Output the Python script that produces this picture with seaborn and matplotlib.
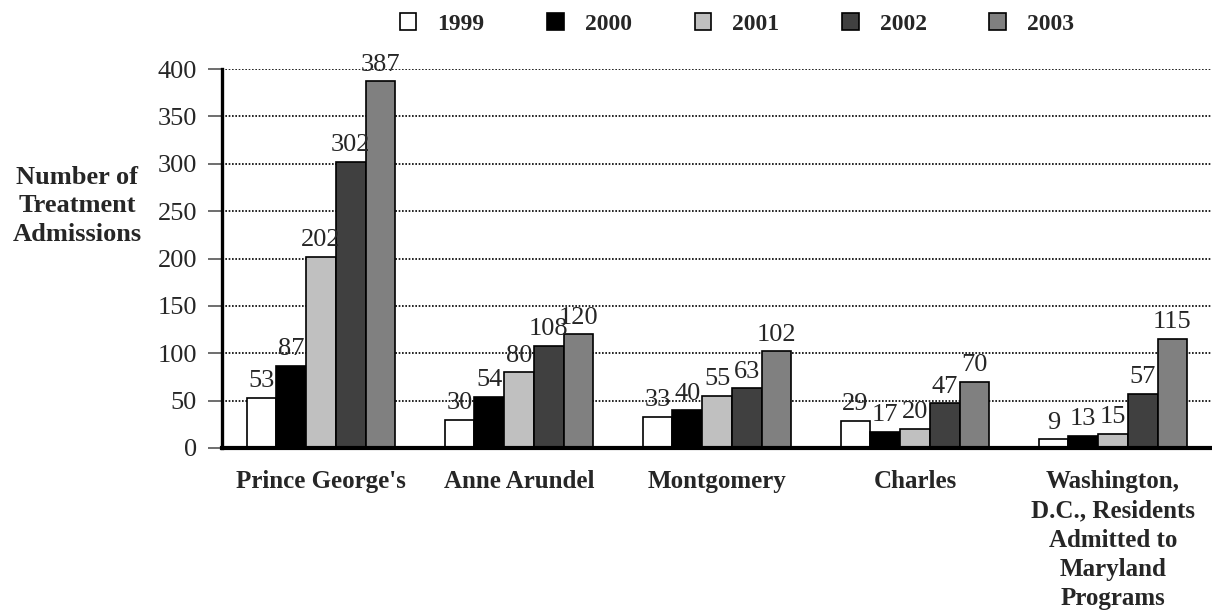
import matplotlib
matplotlib.use("Agg")
import matplotlib.pyplot as plt
import seaborn as sns
import pandas as pd
import numpy as np

categories = ["Prince George's", "Anne Arundel", "Montgomery", "Charles",
              "Washington,\nD.C., Residents\nAdmitted to\nMaryland\nPrograms"]
years = ["1999", "2000", "2001", "2002", "2003"]
v1999 = [53, 30, 33, 29, 9]
v2000 = [87, 54, 40, 17, 13]
v2001 = [202, 80, 55, 20, 15]
v2002 = [302, 108, 63, 47, 57]
v2003 = [387, 120, 102, 70, 115]
colors = ["#FFFFFF", "#000000", "#C0C0C0", "#404040", "#808080"]
yticks = [0, 50, 100, 150, 200, 250, 300, 350, 400]

series = [v1999, v2000, v2001, v2002, v2003]
rows = []
for y, vals in zip(years, series):
    for c, v in zip(categories, vals):
        rows.append({"cat": c, "year": y, "val": v})
df = pd.DataFrame(rows)

sns.set_style("white")
plt.rcParams['font.family'] = ['Liberation Serif', 'DejaVu Serif']

fig = plt.figure(figsize=(12.12, 6.12), dpi=100)
ax = fig.add_axes([222/1212, 1 - 448/612, 1 - 222/1212, (448 - 69)/612])

sns.barplot(data=df, x="cat", y="val", hue="year", palette=colors,
            edgecolor="black", linewidth=1.2, width=0.75, ax=ax,
            order=categories, hue_order=years, legend=True)

for cont in ax.containers:
    ax.bar_label(cont, padding=4, fontsize=19)

ax.set_ylim(0, 400)
ax.set_xlim(-0.5, 4.5)
ax.set_yticks(yticks)
ax.set_yticklabels([str(t) for t in yticks], fontsize=19)
ax.set_xticks(range(len(categories)))
ax.set_xticklabels(categories, fontsize=18, fontweight="bold", linespacing=1.35)
ax.tick_params(axis="x", length=0, pad=16)
ax.tick_params(axis="y", length=10, width=1.2, direction="out", left=True, pad=8, color="#555555")
ax.set_xlabel("")
ax.set_ylabel("")
ax.yaxis.grid(True, linestyle=(0, (1, 1)), color="black", linewidth=1.2)
ax.set_axisbelow(True)
for s in ["top", "right"]:
    ax.spines[s].set_visible(False)
ax.spines["left"].set_linewidth(2.4)
ax.spines["bottom"].set_linewidth(3.0)
ax.spines["left"].set_color("black")
ax.spines["bottom"].set_color("black")

handles, labels = ax.get_legend_handles_labels()
ax.get_legend().remove()
fig.legend(handles, labels, loc="center", bbox_to_anchor=(737/1212, 1 - 24/612),
           ncol=5, frameon=False, prop={"weight": "bold", "size": 17},
           handlelength=0.7, handleheight=0.7, columnspacing=2.65, handletextpad=0.9)

fig.text(77/1212, 1 - 206/612, "Number of\nTreatment\nAdmissions", ha="center", va="center",
         multialignment="center", fontsize=19, fontweight="bold", linespacing=1.32)

fig.savefig("out.png", dpi=100)
